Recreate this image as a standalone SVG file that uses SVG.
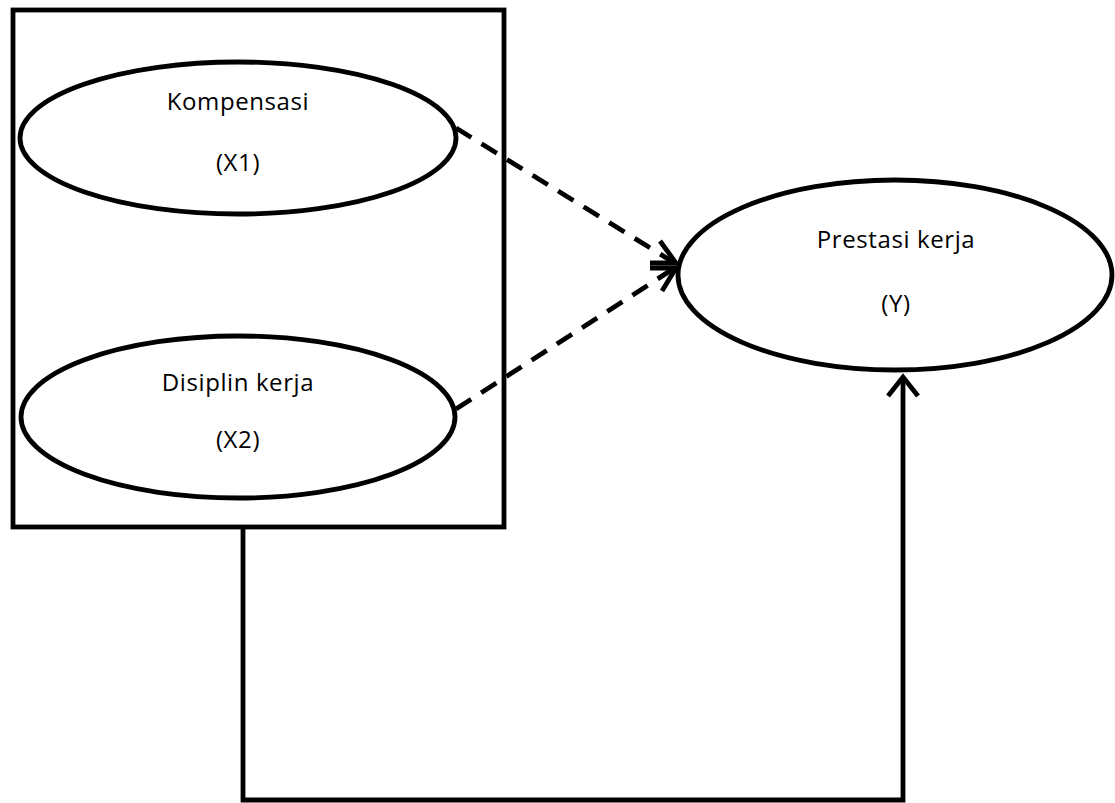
<svg xmlns="http://www.w3.org/2000/svg" width="1115" height="803" viewBox="0 0 1115 803">
<defs>
<style>
.shape{fill:#ffffff;stroke:#000000;stroke-width:4.8}
.lbl{font-family:"Open Sans","Liberation Sans",sans-serif;font-size:24px;letter-spacing:0.6px;fill:#000000;text-anchor:middle}
.dash{fill:none;stroke:#000000;stroke-width:4.8;stroke-dasharray:18 12}
.solid{fill:none;stroke:#000000;stroke-width:4.8}
.head{fill:none;stroke:#000000;stroke-width:4.8;stroke-linecap:butt}
</style>
</defs>
<rect width="1115" height="803" fill="#ffffff"/>
<g id="box">
<rect class="shape" x="13" y="10" width="491" height="517"/>
</g>
<g id="x1">
<ellipse class="shape" cx="238" cy="138" rx="218" ry="76"/>
<text class="lbl" x="238" y="110">Kompensasi</text>
<text class="lbl" x="238" y="171">(X1)</text>
</g>
<g id="x2">
<ellipse class="shape" cx="238" cy="417" rx="217" ry="81"/>
<text class="lbl" x="238" y="391">Disiplin kerja</text>
<text class="lbl" x="238" y="448">(X2)</text>
</g>
<g id="y">
<ellipse class="shape" cx="895" cy="275" rx="217" ry="95"/>
<text class="lbl" x="896" y="248">Prestasi kerja</text>
<text class="lbl" x="896" y="312">(Y)</text>
</g>
<g id="connectors">
<line class="dash" x1="456" y1="128" x2="673" y2="262"/>
<polyline class="head" points="660,241 676,263 650,263"/>
<line class="dash" x1="456" y1="409" x2="673" y2="269"/>
<polyline class="head" points="650,268 676,268 662,291"/>
<polyline class="solid" points="243,527 243,800 903,800 903,378"/>
<polyline class="head" points="888,396 903,377 918,396"/>
</g>
</svg>
